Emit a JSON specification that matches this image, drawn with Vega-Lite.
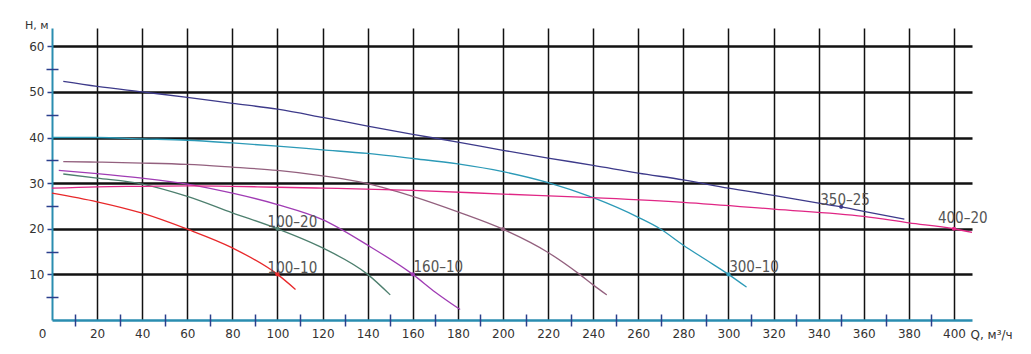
{
  "$schema": "https://vega.github.io/schema/vega-lite/v6.json",
  "width": 920,
  "height": 292,
  "autosize": {"type": "none"},
  "padding": {"left": 52, "top": 28, "right": 59, "bottom": 34},
  "background": "white",
  "config": {"view": {"stroke": null}, "font": "DejaVu Sans"},
  "datasets": {
    "curves": [
      {"s": "350-25", "q": 5, "h": 52.3}, {"s": "350-25", "q": 20, "h": 51.2}, {"s": "350-25", "q": 40, "h": 50.0}, {"s": "350-25", "q": 60, "h": 48.8}, {"s": "350-25", "q": 80, "h": 47.5}, {"s": "350-25", "q": 100, "h": 46.2}, {"s": "350-25", "q": 120, "h": 44.4}, {"s": "350-25", "q": 140, "h": 42.5}, {"s": "350-25", "q": 160, "h": 40.7}, {"s": "350-25", "q": 180, "h": 39.0}, {"s": "350-25", "q": 200, "h": 37.2}, {"s": "350-25", "q": 220, "h": 35.5}, {"s": "350-25", "q": 240, "h": 33.9}, {"s": "350-25", "q": 260, "h": 32.2}, {"s": "350-25", "q": 280, "h": 30.7}, {"s": "350-25", "q": 300, "h": 28.9}, {"s": "350-25", "q": 320, "h": 27.3}, {"s": "350-25", "q": 340, "h": 25.6}, {"s": "350-25", "q": 350, "h": 24.8}, {"s": "350-25", "q": 360, "h": 23.8}, {"s": "350-25", "q": 378, "h": 22.1},
      {"s": "300-10", "q": 0, "h": 40.0}, {"s": "300-10", "q": 20, "h": 40.0}, {"s": "300-10", "q": 40, "h": 39.7}, {"s": "300-10", "q": 60, "h": 39.4}, {"s": "300-10", "q": 80, "h": 38.8}, {"s": "300-10", "q": 100, "h": 38.1}, {"s": "300-10", "q": 120, "h": 37.3}, {"s": "300-10", "q": 140, "h": 36.5}, {"s": "300-10", "q": 160, "h": 35.4}, {"s": "300-10", "q": 180, "h": 34.2}, {"s": "300-10", "q": 200, "h": 32.5}, {"s": "300-10", "q": 220, "h": 30.1}, {"s": "300-10", "q": 240, "h": 26.8}, {"s": "300-10", "q": 260, "h": 22.5}, {"s": "300-10", "q": 270, "h": 19.9}, {"s": "300-10", "q": 280, "h": 16.4}, {"s": "300-10", "q": 290, "h": 13.2}, {"s": "300-10", "q": 300, "h": 10.0}, {"s": "300-10", "q": 308, "h": 7.2},
      {"s": "200-20", "q": 5, "h": 34.7}, {"s": "200-20", "q": 20, "h": 34.6}, {"s": "200-20", "q": 40, "h": 34.4}, {"s": "200-20", "q": 60, "h": 34.1}, {"s": "200-20", "q": 80, "h": 33.5}, {"s": "200-20", "q": 100, "h": 32.8}, {"s": "200-20", "q": 120, "h": 31.6}, {"s": "200-20", "q": 140, "h": 29.9}, {"s": "200-20", "q": 160, "h": 27.1}, {"s": "200-20", "q": 180, "h": 23.7}, {"s": "200-20", "q": 200, "h": 19.9}, {"s": "200-20", "q": 220, "h": 14.8}, {"s": "200-20", "q": 234, "h": 10.0}, {"s": "200-20", "q": 240, "h": 7.7}, {"s": "200-20", "q": 246, "h": 5.5},
      {"s": "160-10", "q": 3, "h": 32.8}, {"s": "160-10", "q": 20, "h": 32.1}, {"s": "160-10", "q": 40, "h": 31.1}, {"s": "160-10", "q": 60, "h": 29.8}, {"s": "160-10", "q": 80, "h": 27.8}, {"s": "160-10", "q": 100, "h": 25.3}, {"s": "160-10", "q": 120, "h": 22.0}, {"s": "160-10", "q": 140, "h": 16.4}, {"s": "160-10", "q": 160, "h": 10.0}, {"s": "160-10", "q": 170, "h": 6.1}, {"s": "160-10", "q": 181, "h": 2.3},
      {"s": "100-20", "q": 5, "h": 32.0}, {"s": "100-20", "q": 20, "h": 31.1}, {"s": "100-20", "q": 40, "h": 29.8}, {"s": "100-20", "q": 60, "h": 27.1}, {"s": "100-20", "q": 80, "h": 23.5}, {"s": "100-20", "q": 100, "h": 20.0}, {"s": "100-20", "q": 120, "h": 15.8}, {"s": "100-20", "q": 140, "h": 10.0}, {"s": "100-20", "q": 150, "h": 5.5},
      {"s": "100-10", "q": 0, "h": 27.8}, {"s": "100-10", "q": 20, "h": 25.9}, {"s": "100-10", "q": 40, "h": 23.4}, {"s": "100-10", "q": 60, "h": 19.9}, {"s": "100-10", "q": 80, "h": 15.8}, {"s": "100-10", "q": 100, "h": 10.0}, {"s": "100-10", "q": 108, "h": 6.7},
      {"s": "400-20", "q": 0, "h": 28.9}, {"s": "400-20", "q": 20, "h": 29.2}, {"s": "400-20", "q": 40, "h": 29.3}, {"s": "400-20", "q": 60, "h": 29.4}, {"s": "400-20", "q": 80, "h": 29.3}, {"s": "400-20", "q": 100, "h": 29.1}, {"s": "400-20", "q": 120, "h": 28.9}, {"s": "400-20", "q": 160, "h": 28.4}, {"s": "400-20", "q": 200, "h": 27.6}, {"s": "400-20", "q": 240, "h": 26.8}, {"s": "400-20", "q": 280, "h": 25.8}, {"s": "400-20", "q": 320, "h": 24.3}, {"s": "400-20", "q": 360, "h": 22.7}, {"s": "400-20", "q": 380, "h": 21.3}, {"s": "400-20", "q": 400, "h": 20.0}, {"s": "400-20", "q": 408, "h": 19.2}
    ],
    "pts": [
      {"s": "100-10", "q": 100, "h": 10}, {"s": "100-20", "q": 100, "h": 20}, {"s": "160-10", "q": 160, "h": 10}, {"s": "200-20", "q": 200, "h": 19.9}, {"s": "300-10", "q": 300, "h": 10}, {"s": "350-25", "q": 350, "h": 24.8}, {"s": "400-20", "q": 400, "h": 20}
    ],
    "labels": [
      {"t": "100–20", "q": 95.6, "h": 20.4}, {"t": "100–10", "q": 95.6, "h": 10.4}, {"t": "160–10", "q": 160.3, "h": 10.5}, {"t": "300–10", "q": 300.3, "h": 10.5}, {"t": "350–25", "q": 340.7, "h": 25.2}, {"t": "400–20", "q": 392.9, "h": 21.2}
    ]
  },
  "layer": [
    {
      "layer": [
        {
          "data": {"name": "curves"},
          "mark": {"type": "line", "interpolate": "monotone", "strokeWidth": 1.3},
          "encoding": {
            "x": {"field": "q", "type": "quantitative", "scale": {"domain": [0, 408], "nice": false, "zero": false},
              "axis": {"values": [0, 20, 40, 60, 80, 100, 120, 140, 160, 180, 200, 220, 240, 260, 280, 300, 320, 340, 360, 380, 400],
                "domain": true, "domainColor": "#2a8db0", "domainWidth": 2.5, "ticks": false, "labelFlush": false,
                "labelFont": "DejaVu Sans", "labelFontSize": 12, "labelColor": "#333", "labelPadding": 8,
                "labelOffset": {"condition": {"test": "datum.value == 0", "value": -10}, "value": 0},
                "grid": true, "gridColor": {"condition": {"test": "datum.value == 0", "value": "transparent"}, "value": "#111"}, "gridWidth": 1.5,
                "title": "Q, м³/ч", "titleX": 918, "titleY": 18, "titleAlign": "left", "titleBaseline": "alphabetic", "titleFont": "DejaVu Sans", "titleFontSize": 12, "titleFontWeight": "normal", "titleColor": "#333"}},
            "y": {"field": "h", "type": "quantitative", "scale": {"domain": [0, 64], "nice": false, "zero": false},
              "axis": {"values": [10, 20, 30, 40, 50, 60], "domainColor": "#2a8db0", "domainWidth": 2,
                "ticks": true, "tickSize": 5, "tickColor": "#2b3f8c", "tickWidth": 1.5,
                "labelFont": "DejaVu Sans", "labelFontSize": 12, "labelColor": "#333", "labelPadding": 3,
                "grid": true, "gridColor": "#111", "gridWidth": 2.5,
                "title": "Н, м", "titleAngle": 0, "titleX": -4, "titleY": 0, "titleAlign": "right", "titleBaseline": "alphabetic", "titleFont": "DejaVu Sans", "titleFontSize": 11, "titleFontWeight": "normal", "titleColor": "#333"}},
            "color": {"field": "s", "type": "nominal", "legend": null,
              "scale": {"domain": ["350-25", "300-10", "200-20", "160-10", "100-20", "100-10", "400-20"],
                "range": ["#3d3a8a", "#2c9ab7", "#93607e", "#a03cb4", "#4d7f6e", "#e8282a", "#e02685"]}}
          }
        },
        {
          "data": {"name": "pts"},
          "mark": {"type": "point", "filled": true, "size": 18, "opacity": 1},
          "encoding": {
            "x": {"field": "q", "type": "quantitative"},
            "y": {"field": "h", "type": "quantitative"},
            "color": {"field": "s", "type": "nominal", "legend": null}
          }
        },
        {
          "data": {"name": "labels"},
          "mark": {"type": "text", "align": "left", "baseline": "alphabetic", "font": "Liberation Sans Narrow, DejaVu Sans Condensed, sans-serif", "fontSize": 15, "fill": "#555"},
          "encoding": {
            "x": {"field": "q", "type": "quantitative"},
            "y": {"field": "h", "type": "quantitative"},
            "text": {"field": "t"}
          }
        }
      ]
    },
    {
      "data": {"name": "curves"},
      "mark": {"type": "point", "opacity": 0},
      "encoding": {
        "x": {"field": "q", "type": "quantitative", "scale": {"domain": [0, 408], "nice": false, "zero": false},
          "axis": {"orient": "bottom", "values": [10, 30, 50, 70, 90, 110, 130, 150, 170, 190, 210, 230, 250, 270, 290, 310, 330, 350, 370, 390],
            "domain": false, "labels": false, "grid": false, "ticks": true, "tickSize": 12, "offset": -6, "tickColor": "#2b3f8c", "tickWidth": 1.5, "title": null}},
        "y": {"field": "h", "type": "quantitative", "scale": {"domain": [0, 64], "nice": false, "zero": false},
          "axis": {"orient": "left", "values": [5, 15, 25, 35, 45, 55],
            "domain": false, "labels": false, "grid": false, "ticks": true, "tickSize": 12, "offset": -6, "tickColor": "#2b3f8c", "tickWidth": 1.5, "title": null}}
      }
    }
  ],
  "resolve": {"axis": {"x": "independent", "y": "independent"}}
}
